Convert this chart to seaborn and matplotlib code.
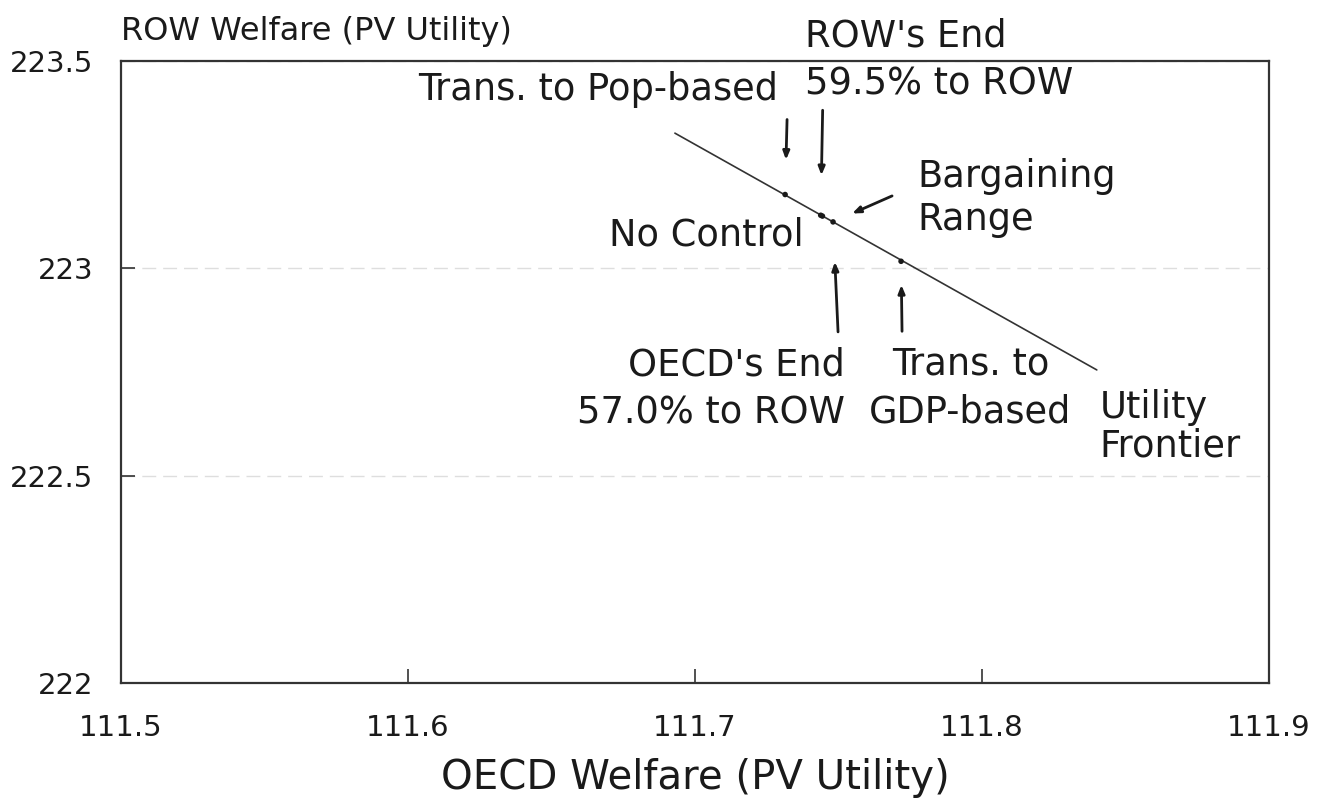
import matplotlib
matplotlib.use("Agg")
import matplotlib.pyplot as plt
import seaborn as sns

# ---- data ----
frontier_x = [111.693, 111.840]
frontier_y = [223.326, 222.755]

point_names = ["Pop-based", "No Control", "ROW's End", "OECD's End", "GDP-based"]
point_x = [111.7314, 111.7438, 111.7444, 111.7481, 111.7718]
point_y = [223.178, 223.128, 223.126, 223.112, 223.017]

x_ticks = [111.5, 111.6, 111.7, 111.8, 111.9]
x_tick_labels = ["111.5", "111.6", "111.7", "111.8", "111.9"]
y_ticks = [222.0, 222.5, 223.0, 223.5]
y_tick_labels = ["222", "222.5", "223", "223.5"]

x_title = "OECD Welfare (PV Utility)"
y_title = "ROW Welfare (PV Utility)"

# ---- style ----
sns.set_theme(style="white")
plt.rcParams["font.family"] = ["DejaVu Sans"]
ink = "#1a1a1a"

W, H = 1318, 801
fig = plt.figure(figsize=(W / 100, H / 100), dpi=100)
ax = fig.add_axes([121 / W, 1 - 683 / H, 1148 / W, 622 / H])

sns.lineplot(x=frontier_x, y=frontier_y, ax=ax, color="#333333", linewidth=1.2,
             legend=False)
sns.scatterplot(x=point_x, y=point_y, ax=ax, s=16, color=ink, edgecolor="none",
                legend=False, zorder=3)

ax.set_xlim(x_ticks[0], x_ticks[-1])
ax.set_ylim(y_ticks[0], y_ticks[-1])
ax.set_xticks(x_ticks)
ax.set_xticklabels(x_tick_labels)
ax.set_yticks(y_ticks)
ax.set_yticklabels(y_tick_labels)
ax.tick_params(axis="both", direction="in", length=10, width=1.2, color="#333333",
               labelsize=21, labelcolor=ink, pad=20, bottom=True, left=True)
ax.tick_params(axis="x", pad=22)
ax.grid(axis="y", color="#dedede", linewidth=1.0, linestyle=(0, (10, 5)))
for s in ax.spines.values():
    s.set_visible(True)
    s.set_color("#333333")
    s.set_linewidth(1.6)

ax.set_xlabel(x_title, fontsize=29, color=ink, labelpad=12)
ax.set_ylabel("")
ax.text(0.0, 1.047, y_title, transform=ax.transAxes, ha="left", va="center",
        fontsize=23, color=ink)

pts = dict(zip(point_names, zip(point_x, point_y)))
fs = 26.5

def label(txt, key, dx, dy, ha, ls=1.38, ma=None):
    ax.annotate(txt, xy=pts[key] if key in pts else key, xytext=(dx, dy),
                textcoords="offset points", ha=ha, va="center", fontsize=fs,
                color=ink, linespacing=ls, multialignment=ma or ha)

def arrow(key, dx, dy, gap):
    ax.annotate("", xy=pts[key], xytext=(dx, dy), textcoords="offset points",
                arrowprops=dict(arrowstyle="-|>,head_length=0.4,head_width=0.16",
                                color=ink, lw=2.0, shrinkA=0, shrinkB=gap))

label("Trans. to Pop-based", "Pop-based", -5, 75.6, "right")
label("ROW's End\n59.5% to ROW", "No Control", -11.5, 112, "left")
label("Bargaining\nRange", "OECD's End", 61, 17, "left", ls=1.2)
label("No Control", "No Control", -12, -14.4, "right")
label("OECD's End\n57.0% to ROW", "OECD's End", 8.6, -120, "right")
label("Trans. to\nGDP-based", "GDP-based", 50, -91.4, "center")
label("Utility\nFrontier", (frontier_x[-1], frontier_y[-1]), 2, -41, "left", ls=1.05)

arrow("Pop-based", 1.4, 54, 25)
arrow("No Control", 1.4, 75.6, 28.8)
arrow("OECD's End", 3.6, -79.2, 28.8)
arrow("GDP-based", 0.7, -50.4, 17)
arrow("OECD's End", 42.5, 18.7, 15)

fig.savefig("out.png", dpi=100, facecolor="white")
